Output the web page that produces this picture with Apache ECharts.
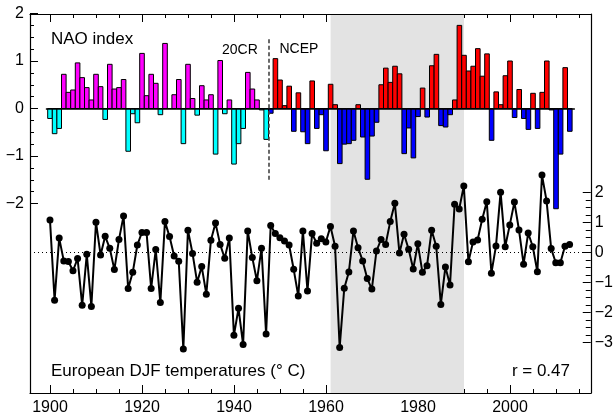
<!DOCTYPE html>
<html>
<head>
<meta charset="utf-8">
<script src="https://cdn.jsdelivr.net/npm/echarts@6/dist/echarts.min.js"></script>
<style>html,body{margin:0;padding:0;background:#fff}#c{width:616px;height:417px}</style>
</head>
<body>
<div id="c"></div>
<script>
// ---------- data ----------
const firstYear = 1900;
// NAO index, 20th Century Reanalysis (1900-1947)
const nao20CR = [
  -0.21, -0.53, -0.42, 0.72, 0.34, 0.39, 0.96, 0.65, 0.44, 0.18,
   0.72,  0.46, -0.23, 0.93, 0.41, 0.44, 0.61, -0.90, -0.11, -0.30,
   1.16,  0.27,  0.72, 0.53, -0.13, 1.37, 0.00, 0.29, 0.61, -0.74,
   0.93,  0.21, -0.14, 0.48, 0.18, 0.29, -0.96, 1.01, -0.11, 0.18,
  -1.17, -0.74, -0.42, 0.76, 0.41, 0.18, -0.03, -0.65
];
// NAO index, NCEP (1948-2013)
const naoNCEP = [
  -0.10, 1.05, 0.60, 0.06, 0.47, -0.48, 0.33, -0.49, -0.74, 0.58,
  -0.42, -0.13, -0.89, 0.51, 0.08, -1.16, -0.75, -0.74, -0.67, 0.08,
  -0.60, -1.49, -0.58, -0.29, 0.50, 0.85, 0.55, 0.89, 0.73, -0.95,
  -0.41, -1.04, -0.17, 0.43, -0.18, 0.90, 1.14, -0.36, -0.39, -0.13,
   0.18, 1.75, 1.12, 0.79, 0.89, 1.26, 0.68, 1.15, -0.67, 0.35,
   0.08, 0.69, 1.00, -0.19, 0.40, -0.21, -0.44, 0.32, -0.42, 0.34,
   1.00, -0.03, -2.11, -0.96, 0.86, -0.48
];
// European DJF temperature anomalies (deg C), 1900-2013
const temps = [
   1.08, -1.59, 0.48, -0.28, -0.30, -0.61, -0.20, -1.76, -0.06, -1.80,
   1.01, -0.08, 0.54, 0.14, -0.57, 0.43, 1.22, -1.20, -0.66, 0.25,
   0.67, 0.67, -1.20, 0.10, -1.67, 1.03, 0.53, -0.12, -0.29, -3.22,
   0.74, -0.03, -0.99, -0.47, -1.39, 0.41, 0.98, 0.27, -0.19, 0.48,
  -2.76, -1.86, -3.07, 0.72, -0.17, -0.94, 0.14, -2.72, 0.90, 0.63,
   0.49, 0.38, 0.25, -0.56, -1.45, 0.72, -1.28, 0.63, 0.31, 0.46,
   0.35, 0.87, 0.21, -3.17, -1.19, -0.65, 0.72, 0.16, -0.28, -0.87,
  -1.22, 0.05, 0.43, 0.27, 1.03, 1.64, -0.02, 0.61, 0.11, -0.55,
   0.29, -0.66, -0.44, 0.74, 0.21, -1.73, -0.48, -1.08, 1.61, 1.45,
   2.22, -0.31, 0.35, 0.42, 1.11, 1.69, -0.69, 0.22, 2.01, 0.19,
   0.92, 1.68, 0.75, -0.39, 0.65, 0.19, -0.64, 2.58, 1.72, 0.13,
  -0.34, -0.34, 0.21, 0.27
];
const xTickLabels = [1900, 1920, 1940, 1960, 1980, 2000];
const naoTicks = [-2, -1, 0, 1, 2];
const tempTicks = [-3, -2, -1, 0, 1, 2];
const bandStart = 1961, bandEnd = 1990;
const ncepStart = 1948;
const dividerYear = 1947.5;
const corrText = 'r = 0.47';

// ---------- layout / style ----------
const F = "'Liberation Sans', Arial, Helvetica, sans-serif";
const pxPerYear = 4.6;
const frameL = 30, frameR = 591, x1900 = 50;
const xMin = 1900 - (x1900 - frameL) / pxPerYear;
const xMax = 1900 + (frameR - x1900) / pxPerYear;
const minus = v => String(v).replace('-', '\u2212');
// [positive, negative] colours for 20CR and NCEP
const barColors = [['#ff00ff', '#00ffff'], ['#ff0000', '#0000ff']];

const naoAll = nao20CR.concat(naoNCEP);
const naoData = naoAll.map((v, i) => {
  const yr = firstYear + i;
  return [yr, v, yr < ncepStart ? 0 : 1];
});
const tempData = temps.map((v, i) => [firstYear + i, v]);

const frameAxisLine = { show: true, onZero: false, lineStyle: { color: '#000', width: 1.2 } };

function renderBar(params, api) {
  const yr = api.value(0), v = api.value(1), src = api.value(2);
  const p0 = api.coord([yr, 0]);
  const p1 = api.coord([yr, v]);
  const w = api.size([1, 0])[0];
  return {
    type: 'rect',
    shape: { x: p0[0] - w / 2, y: Math.min(p0[1], p1[1]), width: w, height: Math.abs(p1[1] - p0[1]) },
    style: { fill: barColors[src][v >= 0 ? 0 : 1], stroke: '#000', lineWidth: 1 }
  };
}

const option = {
  animation: false,
  backgroundColor: '#fff',
  grid: [
    { left: frameL, right: 616 - frameR, top: 13.5, height: 190 },   // NAO: 2 .. -2
    { left: frameL, right: 616 - frameR, top: 192.5, height: 150 },  // temp: 2 .. -3
    { left: frameL, right: 616 - frameR, top: 14, height: 379 },     // frame
    { left: x1900, width: 115 * pxPerYear, top: 14, height: 379 }    // x ticks 1900..2015
  ],
  xAxis: [
    { gridIndex: 0, type: 'value', min: xMin, max: xMax, show: false },
    { gridIndex: 1, type: 'value', min: xMin, max: xMax, show: false },
    { gridIndex: 2, type: 'value', position: 'bottom', min: xMin, max: xMax, z: 5,
      axisLine: frameAxisLine, axisTick: { show: false }, axisLabel: { show: false }, splitLine: { show: false } },
    { gridIndex: 2, type: 'value', position: 'top', min: xMin, max: xMax, z: 5,
      axisLine: frameAxisLine, axisTick: { show: false }, axisLabel: { show: false }, splitLine: { show: false } },
    { gridIndex: 3, type: 'value', position: 'bottom', min: 1900, max: 2015, interval: 5,
      axisLine: { show: false, onZero: false }, axisTick: { inside: true, length: 4, lineStyle: { color: '#000', width: 1 } },
      axisLabel: { show: false }, splitLine: { show: false } },
    { gridIndex: 3, type: 'value', position: 'top', min: 1900, max: 2015, interval: 5,
      axisLine: { show: false, onZero: false }, axisTick: { inside: true, length: 4, lineStyle: { color: '#000', width: 1 } },
      axisLabel: { show: false }, splitLine: { show: false } },
    { gridIndex: 3, type: 'value', position: 'bottom', min: 1900, max: 2015, interval: 20,
      axisLine: { show: false, onZero: false },
      axisTick: { inside: true, length: 8, customValues: xTickLabels, lineStyle: { color: '#000', width: 1 } },
      axisLabel: { customValues: xTickLabels, color: '#000', fontSize: 16, fontFamily: F, margin: 7,
        formatter: v => (xTickLabels.indexOf(v) >= 0 ? String(v) : '') },
      splitLine: { show: false } },
    { gridIndex: 3, type: 'value', position: 'top', min: 1900, max: 2015, interval: 20,
      axisLine: { show: false, onZero: false },
      axisTick: { inside: true, length: 8, customValues: xTickLabels, lineStyle: { color: '#000', width: 1 } },
      axisLabel: { show: false }, splitLine: { show: false } }
  ],
  yAxis: [
    { gridIndex: 0, type: 'value', position: 'left', min: naoTicks[0], max: naoTicks[naoTicks.length - 1], interval: 1,
      axisLine: { show: false, onZero: false },
      axisTick: { inside: true, length: 8, lineStyle: { color: '#000', width: 1 } },
      minorTick: { show: true, splitNumber: 4, length: 4, lineStyle: { color: '#000', width: 1 } },
      axisLabel: { formatter: minus, color: '#000', fontSize: 16, fontFamily: F, margin: 6 },
      splitLine: { show: false } },
    { gridIndex: 1, type: 'value', position: 'right', min: tempTicks[0], max: tempTicks[tempTicks.length - 1], interval: 1,
      axisLine: { show: false, onZero: false },
      axisTick: { inside: true, length: 8, lineStyle: { color: '#000', width: 1 } },
      minorTick: { show: true, splitNumber: 4, length: 5, lineStyle: { color: '#000', width: 1 } },
      axisLabel: { formatter: minus, color: '#000', fontSize: 16, fontFamily: F, margin: 4 },
      splitLine: { show: false } },
    { gridIndex: 2, type: 'value', position: 'left', min: 0, max: 1, z: 5,
      axisLine: frameAxisLine, axisTick: { show: false }, axisLabel: { show: false }, splitLine: { show: false } },
    { gridIndex: 2, type: 'value', position: 'right', min: 0, max: 1, z: 5,
      axisLine: frameAxisLine, axisTick: { show: false }, axisLabel: { show: false }, splitLine: { show: false } },
    { gridIndex: 3, type: 'value', min: 0, max: 1, show: false }
  ],
  series: [
    {
      name: 'band', type: 'line', xAxisIndex: 2, yAxisIndex: 2, z: 0,
      data: [[bandStart, 0.5]], symbol: 'none', lineStyle: { opacity: 0 }, silent: true,
      markArea: { silent: true, itemStyle: { color: '#e3e3e3' }, label: { show: false },
        data: [[{ xAxis: bandStart }, { xAxis: bandEnd }]] }
    },
    {
      name: 'NAO', type: 'custom', xAxisIndex: 0, yAxisIndex: 0, z: 2,
      renderItem: renderBar, clip: false, data: naoData,
      encode: { x: 0, y: 1 },
      markLine: {
        silent: true, symbol: 'none', label: { show: false }, animation: false,
        data: [
          [ { coord: [firstYear - 0.9, 0], lineStyle: { color: '#000', width: 1.5, type: 'solid' } },
            { coord: [firstYear + naoAll.length - 1 + 1.1, 0], lineStyle: { color: '#000', width: 1.5, type: 'solid' } } ],
          [ { coord: [dividerYear, -1.5], lineStyle: { color: '#444', width: 1.6, type: [4, 2.5] } },
            { coord: [dividerYear, 1.5], lineStyle: { color: '#444', width: 1.6, type: [4, 2.5] } } ]
        ]
      }
    },
    {
      name: 'Temp', type: 'line', xAxisIndex: 1, yAxisIndex: 1, z: 4,
      data: tempData, clip: false, symbol: 'circle', symbolSize: 7,
      itemStyle: { color: '#000' }, lineStyle: { color: '#000', width: 2 },
      markLine: {
        silent: true, symbol: 'none', label: { show: false }, animation: false,
        data: [{ yAxis: 0, lineStyle: { color: '#000', width: 1, type: [1, 3] } }]
      }
    }
  ],
  graphic: [
    { type: 'text', z: 10, style: { text: 'NAO index', x: 51, y: 39, font: '17px ' + F, fill: '#000', textAlign: 'left', textVerticalAlign: 'middle' } },
    { type: 'text', z: 10, style: { text: '20CR', x: 222, y: 50, font: '14px ' + F, fill: '#000', textAlign: 'left', textVerticalAlign: 'middle' } },
    { type: 'text', z: 10, style: { text: 'NCEP', x: 279.5, y: 49.5, font: '14px ' + F, fill: '#000', textAlign: 'left', textVerticalAlign: 'middle' } },
    { type: 'text', z: 10, style: { text: 'European DJF temperatures (\u00b0 C)', x: 51, y: 371, font: '17px ' + F, fill: '#000', textAlign: 'left', textVerticalAlign: 'middle' } },
    { type: 'text', z: 10, style: { text: corrText, x: 570, y: 371.5, font: '17px ' + F, fill: '#000', textAlign: 'right', textVerticalAlign: 'middle' } }
  ]
};

const chart = echarts.init(document.getElementById('c'), null, { renderer: 'canvas' });
chart.setOption(option);
</script>
</body>
</html>
